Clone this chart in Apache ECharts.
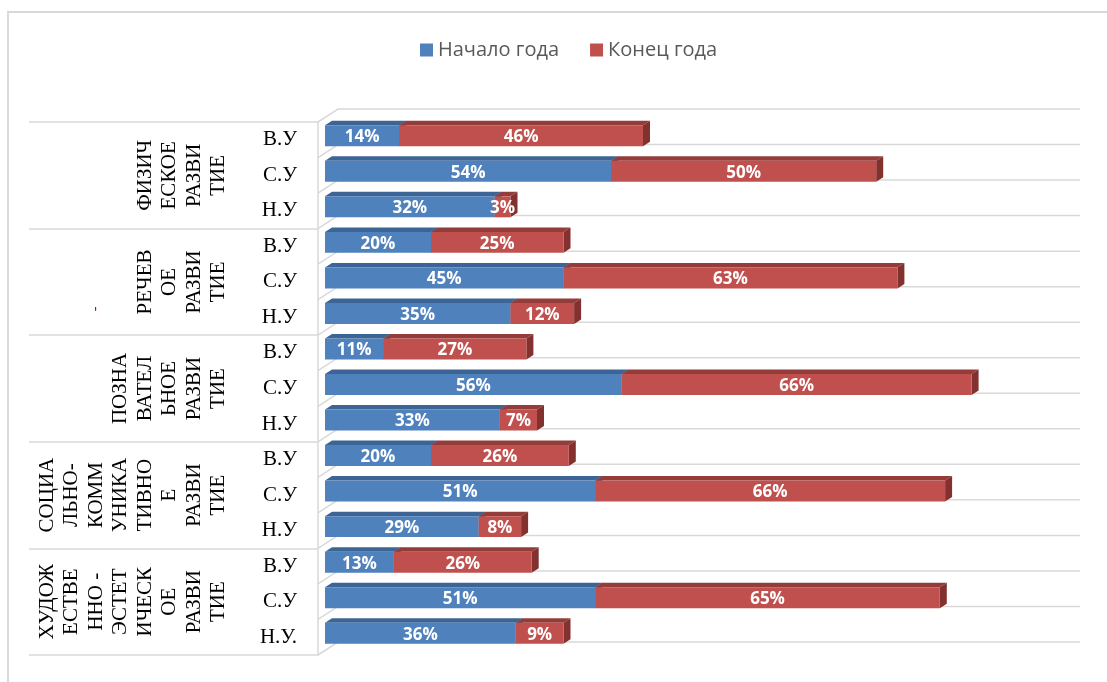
<!DOCTYPE html>
<html>
<head>
<meta charset="utf-8">
<script src="https://cdn.jsdelivr.net/npm/echarts@6/dist/echarts.min.js"></script>
<style>
html,body{margin:0;padding:0;background:#fff;}
#chart{width:1107px;height:682px;}
</style>
</head>
<body>
<div id="chart"></div>
<script>
// ---- data ----
const seriesNames = ['Начало года', 'Конец года'];
const levels = ['В.У','С.У','Н.У','В.У','С.У','Н.У','В.У','С.У','Н.У','В.У','С.У','Н.У','В.У','С.У','Н.У.'];
const groups = [
  'ФИЗИЧ\nЕСКОЕ\nРАЗВИ\nТИЕ',
  'РЕЧЕВ\nОЕ\nРАЗВИ\nТИЕ',
  'ПОЗНА\nВАТЕЛ\nЬНОЕ\nРАЗВИ\nТИЕ',
  'СОЦИА\nЛЬНО-\nКОММ\nУНИКА\nТИВНО\nЕ\nРАЗВИ\nТИЕ',
  'ХУДОЖ\nЕСТВЕ\nННО -\nЭСТЕТ\nИЧЕСК\nОЕ\nРАЗВИ\nТИЕ'
];
const startValues = [14, 54, 32, 20, 45, 35, 11, 56, 33, 20, 51, 29, 13, 51, 36];
const endValues   = [46, 50,  3, 25, 63, 12, 27, 66,  7, 26, 66,  8, 26, 65,  9];

// ---- styling / 3D geometry ----
const BAR_OFF = [7, -4];     // bar front face offset from front plane
const BAR_DEPTH = [7, -4.5]; // bar depth
const WALL = [20, -13];      // back wall offset
const X_MAX = 140;
const palette = [
  {front: '#4f81bd', top: '#3c6595', side: '#3a5f8c'},
  {front: '#c0504d', top: '#943c3a', side: '#82312f'}
];

function barRenderer(colors) {
  return function (params, api) {
    const a = api.value(0), b = api.value(1), c = api.value(2), v = api.value(3);
    const pA = api.coord([a, c]);
    const pB = api.coord([b, c]);
    const band = api.size([0, 1])[1];
    const h = band * 0.59;
    const xL = pA[0] + BAR_OFF[0], xR = pB[0] + BAR_OFF[0];
    const yT = pA[1] + BAR_OFF[1] - h / 2, yB = yT + h;
    const dx = BAR_DEPTH[0], dy = BAR_DEPTH[1];
    return {
      type: 'group',
      children: [
        {type: 'polygon', shape: {points: [[xL, yT], [xR, yT], [xR + dx, yT + dy], [xL + dx, yT + dy]]}, style: {fill: colors.top}},
        {type: 'polygon', shape: {points: [[xR, yT], [xR + dx, yT + dy], [xR + dx, yB + dy], [xR, yB]]}, style: {fill: colors.side}},
        {type: 'rect', shape: {x: xL, y: yT, width: xR - xL, height: h}, style: {fill: colors.front}},
        {type: 'text', x: (xL + xR) / 2, y: (yT + yB) / 2 + 1.5, z2: 10,
          style: {text: v + '%', fill: '#ffffff', fontFamily: 'Open Sans', fontWeight: 'bold', fontSize: 17, align: 'center', verticalAlign: 'middle'}}
      ]
    };
  };
}

function gridRenderer(params, api) {
  const c = api.value(1);
  const band = api.size([0, 1])[1];
  const p0 = api.coord([0, c]);
  const pMax = api.coord([X_MAX, c]);
  const lines = [];
  const ys = [p0[1] - band / 2];
  if (params.dataIndex === levels.length - 1) ys.push(p0[1] + band / 2);
  ys.forEach(function (y) {
    lines.push({
      type: 'polyline',
      shape: {points: [[p0[0], y], [p0[0] + WALL[0], y + WALL[1]], [pMax[0] + WALL[0], y + WALL[1]]]},
      style: {stroke: '#d9d9d9', lineWidth: 1.5, fill: null}
    });
  });
  return {type: 'group', children: lines};
}

const chart = echarts.init(document.getElementById('chart'), null, {renderer: 'canvas'});
const option = {
  backgroundColor: '#ffffff',
  animation: false,
  graphic: [
    {type: 'rect', silent: true, z: 0, shape: {x: 8, y: 12, width: 1300, height: 900}, style: {fill: 'none', stroke: '#d9d9d9', lineWidth: 2}},
    {type: 'text', silent: true, x: 95, y: 309, rotation: Math.PI / 2, style: {text: '-', fill: '#c00000', fontSize: 14, fontFamily: 'Liberation Serif', align: 'center', verticalAlign: 'middle'}}
  ],
  legend: {
    data: seriesNames,
    left: 415,
    top: 35,
    icon: 'rect',
    itemWidth: 13,
    itemHeight: 13,
    itemGap: 31,
    textStyle: {color: '#595959', fontSize: 20, fontFamily: 'Open Sans'}
  },
  grid: {left: 318, top: 122, width: 742, height: 533, containLabel: false, outerBoundsMode: 'none'},
  xAxis: {
    type: 'value', min: 0, max: X_MAX,
    axisLine: {show: false}, axisTick: {show: false}, axisLabel: {show: false}, splitLine: {show: false}
  },
  yAxis: [
    {
      type: 'category', data: levels, inverse: true, position: 'left',
      axisLine: {show: true, lineStyle: {color: '#d9d9d9', width: 1.5}},
      axisTick: {show: false},
      splitLine: {show: false},
      axisLabel: {interval: 0, margin: 21, color: '#000000', fontSize: 21, fontFamily: 'Liberation Serif'}
    },
    {
      type: 'category', data: groups, inverse: true, position: 'left', offset: 0,
      axisLine: {show: false},
      axisTick: {show: true, length: 289, lineStyle: {color: '#d9d9d9', width: 1.5}},
      splitLine: {show: false},
      axisLabel: {interval: 0, rotate: 90, margin: 87, color: '#000000', fontSize: 21, lineHeight: 24.5, fontFamily: 'Liberation Serif'}
    }
  ],
  series: [
    {
      type: 'custom', name: 'grid', silent: true, z: 1, clip: false,
      renderItem: gridRenderer,
      encode: {x: 0, y: 1},
      data: levels.map(function (_, i) { return [0, i]; })
    },
    {
      type: 'custom', name: seriesNames[0], z: 3, clip: false,
      itemStyle: {color: palette[0].front},
      renderItem: barRenderer(palette[0]),
      encode: {x: [0, 1], y: 2},
      data: startValues.map(function (v, i) { return [0, v, i, v]; })
    },
    {
      type: 'custom', name: seriesNames[1], z: 4, clip: false,
      itemStyle: {color: palette[1].front},
      renderItem: barRenderer(palette[1]),
      encode: {x: [0, 1], y: 2},
      data: endValues.map(function (v, i) { return [startValues[i], startValues[i] + v, i, v]; })
    }
  ]
};
chart.setOption(option);
</script>
</body>
</html>
